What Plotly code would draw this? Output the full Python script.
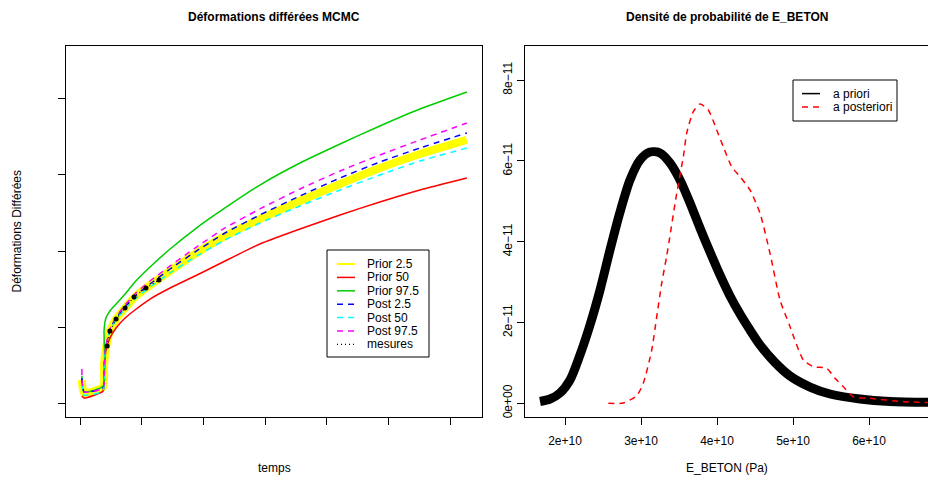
import plotly.graph_objects as go

# ---------------- Left panel data (temps, deformations) ----------------
temps = [30, 65, 375, 390, 420, 485, 585, 730, 890, 1135, 1460, 1865, 2350,
         2915, 3565, 4215, 4860, 5510, 6270]
prior_025 = [0.303, 0.132, 0.211, 0.500, 0.724, 0.947, 1.105, 1.250, 1.395, 1.553,
             1.737, 1.961, 2.197, 2.421, 2.658, 2.882, 3.092, 3.276, 3.461]
prior_50 = [0.092, 0.066, 0.158, 0.408, 0.697, 0.855, 0.987, 1.118, 1.224, 1.368,
            1.513, 1.671, 1.868, 2.092, 2.289, 2.474, 2.645, 2.803, 2.961]
prior_975 = [0.355, 0.145, 0.224, 0.961, 1.118, 1.211, 1.303, 1.434, 1.592, 1.789,
             2.026, 2.289, 2.566, 2.868, 3.158, 3.408, 3.645, 3.868, 4.092]
post_025 = [0.329, 0.145, 0.197, 0.500, 0.737, 0.961, 1.118, 1.263, 1.408, 1.566,
            1.763, 1.987, 2.237, 2.474, 2.724, 2.961, 3.171, 3.355, 3.553]
post_50 = [0.263, 0.105, 0.158, 0.487, 0.724, 0.947, 1.092, 1.237, 1.368, 1.526,
           1.711, 1.921, 2.145, 2.368, 2.592, 2.803, 3.000, 3.184, 3.355]
post_975 = [0.447, 0.145, 0.197, 0.500, 0.750, 0.974, 1.132, 1.289, 1.434, 1.605,
            1.803, 2.039, 2.303, 2.553, 2.816, 3.053, 3.263, 3.461, 3.684]
mes_t = [440, 485, 585, 730, 875, 1070, 1280]
mes_v = [0.750, 0.947, 1.105, 1.250, 1.395, 1.513, 1.618]
left_xticks = [0, 1000, 2000, 3000, 4000, 5000, 6000]
left_yticks = [0, 1, 2, 3, 4]

# ---------------- Right panel data (densities of E_BETON) ----------------
e_prior = [1.671e10, 1.803e10, 1.934e10, 2.066e10, 2.197e10, 2.329e10, 2.461e10,
           2.592e10, 2.724e10, 2.855e10, 2.987e10, 3.118e10, 3.250e10, 3.382e10,
           3.513e10, 3.645e10, 3.776e10, 3.908e10, 4.039e10, 4.171e10, 4.303e10,
           4.434e10, 4.566e10, 4.763e10, 4.961e10, 5.224e10, 5.487e10, 5.882e10,
           6.276e10, 6.934e10]
d_prior = [0.045e-11, 0.106e-11, 0.255e-11, 0.577e-11, 1.196e-11, 1.938e-11, 2.805e-11,
           3.795e-11, 4.735e-11, 5.527e-11, 6.022e-11, 6.220e-11, 6.196e-11, 5.948e-11,
           5.527e-11, 4.958e-11, 4.339e-11, 3.745e-11, 3.176e-11, 2.656e-11, 2.210e-11,
           1.814e-11, 1.443e-11, 1.010e-11, 0.676e-11, 0.403e-11, 0.230e-11, 0.106e-11,
           0.045e-11, 0.020e-11]
e_post = [2.570e10, 2.767e10, 2.943e10, 3.030e10, 3.141e10, 3.207e10, 3.272e10,
          3.338e10, 3.470e10, 3.557e10, 3.601e10, 3.688e10, 3.776e10, 3.886e10,
          3.996e10, 4.083e10, 4.193e10, 4.303e10, 4.434e10, 4.566e10, 4.697e10,
          4.829e10, 4.961e10, 5.136e10, 5.268e10, 5.444e10, 5.553e10, 5.662e10,
          5.793e10, 6.013e10, 6.451e10, 6.934e10]
d_post = [0.000e-11, 0.007e-11, 0.188e-11, 0.495e-11, 1.319e-11, 2.144e-11, 2.970e-11,
          3.646e-11, 5.198e-11, 6.104e-11, 6.683e-11, 7.218e-11, 7.408e-11, 7.260e-11,
          6.765e-11, 6.351e-11, 5.856e-11, 5.609e-11, 5.280e-11, 4.703e-11, 3.713e-11,
          2.557e-11, 1.896e-11, 1.072e-11, 0.906e-11, 0.866e-11, 0.619e-11, 0.411e-11,
          0.163e-11, 0.124e-11, 0.040e-11, 0.015e-11]
right_xticks = [2e10, 3e10, 4e10, 5e10, 6e10]
right_xlabels = ["2e+10", "3e+10", "4e+10", "5e+10", "6e+10"]
right_yticks = [0, 2e-11, 4e-11, 6e-11, 8e-11]
right_ylabels = ["0e+00", "2e\u221211", "4e\u221211", "6e\u221211", "8e\u221211"]

W, H = 928, 477
FONT = "Liberation Sans, Arial, Helvetica, sans-serif"


def fx(x):
    return x / W


def fy(y):
    return (H - y) / H


fig = go.Figure()

left_series = [
    ("Prior 2.5", prior_025, "#FFFF00", 8, "solid"),
    ("Prior 50", prior_50, "#FF0000", 1.5, "solid"),
    ("Prior 97.5", prior_975, "#00CD00", 1.5, "solid"),
    ("Post 2.5", post_025, "#0000FF", 1.5, "6px,5px"),
    ("Post 50", post_50, "#00FFFF", 1.5, "6px,5px"),
    ("Post 97.5", post_975, "#FF00FF", 1.5, "6px,5px"),
]
for name, vals, col, w, dash in left_series:
    fig.add_trace(go.Scatter(x=temps, y=vals, mode="lines", name=name,
                             line=dict(color=col, width=w, dash=dash,
                                       shape="spline", smoothing=0.5),
                             xaxis="x", yaxis="y", showlegend=False))
fig.add_trace(go.Scatter(x=mes_t, y=mes_v, mode="lines+markers", name="mesures",
                         line=dict(color="black", width=1.2, dash="1px,3px"),
                         marker=dict(color="black", size=5),
                         xaxis="x", yaxis="y", showlegend=False))

fig.add_trace(go.Scatter(x=e_prior, y=d_prior, mode="lines", name="a priori",
                         line=dict(color="black", width=9, shape="spline",
                                   smoothing=0.8),
                         xaxis="x2", yaxis="y2", showlegend=False))
fig.add_trace(go.Scatter(x=e_post, y=d_post, mode="lines", name="a posteriori",
                         line=dict(color="#FF0000", width=1.5, dash="6px,5px",
                                   shape="spline", smoothing=0.6),
                         xaxis="x2", yaxis="y2", showlegend=False))

ax_common = dict(showgrid=False, zeroline=False, showline=True, linecolor="black",
                 linewidth=1, ticks="outside", ticklen=7, tickcolor="black",
                 tickwidth=1, tickfont=dict(family=FONT, size=12, color="black"))

fig.update_layout(
    width=W, height=H, margin=dict(l=0, r=0, t=0, b=0),
    paper_bgcolor="white", plot_bgcolor="white",
    font=dict(family=FONT, size=12, color="black"),
    xaxis=dict(domain=[fx(66), fx(482)], range=[-227, 6515], anchor="y",
               tickvals=left_xticks, ticktext=[""] * len(left_xticks),
               mirror=True, **ax_common),
    yaxis=dict(domain=[fy(417), fy(46)], range=[-0.184, 4.697], anchor="x",
               tickvals=left_yticks, ticktext=[""] * len(left_yticks),
               mirror=True, **ax_common),
    xaxis2=dict(domain=[fx(525), 1.0], range=[1.4737e10, 6.776e10], anchor="y2",
                tickvals=right_xticks, ticktext=right_xlabels, mirror=True,
                ticklabelstandoff=6, **ax_common),
    yaxis2=dict(domain=[fy(417), fy(46)], range=[-0.339e-11, 8.844e-11], anchor="x2",
                tickvals=right_yticks, ticktext=right_ylabels, tickangle=-90,
                ticklabelstandoff=0, **ax_common),
)

ann = []
# titles
ann.append(dict(text="<b>Déformations différées MCMC</b>", x=fx(274), y=fy(17),
                font=dict(size=12)))
ann.append(dict(text="<b>Densité de probabilité de E_BETON</b>", x=fx(727), y=fy(17),
                font=dict(size=12)))
# axis titles
ann.append(dict(text="temps", x=fx(274), y=fy(468), font=dict(size=12)))
ann.append(dict(text="E_BETON (Pa)", x=fx(727), y=fy(468), font=dict(size=12)))
ann.append(dict(text="Déformations Différées", x=fx(17), y=fy(231.5), textangle=-90,
                font=dict(size=12)))

shapes = []
# left legend
shapes.append(dict(type="rect", xref="paper", yref="paper", x0=fx(327), x1=fx(429),
                   y0=fy(357), y1=fy(250), line=dict(color="black", width=1),
                   fillcolor="white", layer="above"))
leg_items = [(n, c, w, d) for n, _, c, w, d in left_series] + \
            [("mesures", "black", 1.2, "1px,3px")]
for i, (name, col, w, dash) in enumerate(leg_items):
    yy = 264 + 13.4 * i
    shapes.append(dict(type="line", xref="paper", yref="paper", x0=fx(337), x1=fx(355),
                       y0=fy(yy), y1=fy(yy), layer="above",
                       line=dict(color=col, width=min(w, 2), dash=dash)))
    ann.append(dict(text=name, x=fx(365), y=fy(yy), xanchor="left",
                    font=dict(size=12)))
# right legend
shapes.append(dict(type="rect", xref="paper", yref="paper", x0=fx(793), x1=fx(897),
                   y0=fy(121), y1=fy(80), line=dict(color="black", width=1),
                   fillcolor="white", layer="above"))
for i, (name, col, dash) in enumerate([("a priori", "black", "solid"),
                                       ("a posteriori", "#FF0000", "6px,5px")]):
    yy = 93.6 + 13.4 * i
    shapes.append(dict(type="line", xref="paper", yref="paper", x0=fx(802), x1=fx(820),
                       y0=fy(yy), y1=fy(yy), layer="above",
                       line=dict(color=col, width=1.5, dash=dash)))
    ann.append(dict(text=name, x=fx(831), y=fy(yy), xanchor="left",
                    font=dict(size=12)))

for a in ann:
    a.setdefault("xanchor", "center")
    a.update(xref="paper", yref="paper", yanchor="middle", showarrow=False)
    a["font"] = dict(family=FONT, color="black", **a["font"])

fig.update_layout(annotations=ann, shapes=shapes)
fig.write_html("out.html")
